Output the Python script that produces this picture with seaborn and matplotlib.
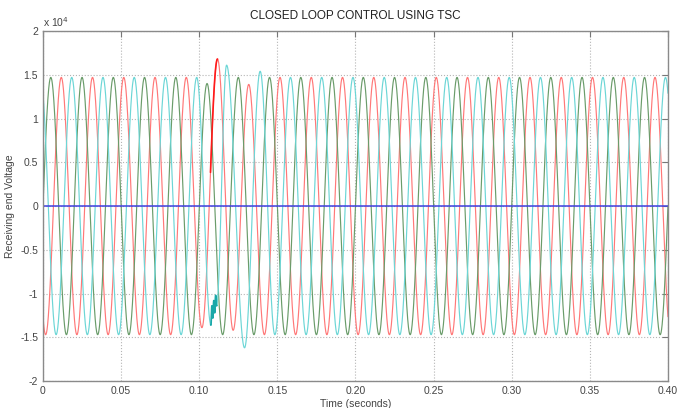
import numpy as np
import pandas as pd
import matplotlib
matplotlib.use('Agg')
import matplotlib.pyplot as plt
from matplotlib.ticker import FuncFormatter, MultipleLocator
import seaborn as sns

# three phase receiving end voltage, values in units of 1e4 V
freq_hz = 50.0
amp_nominal = 1.47
t_end = 0.40
phases = ['red', 'green', 'cyan']
first_peak_t = [0.0117, 0.0050, 0.0184]

red_event_t = [0.1017, 0.1117, 0.1217, 0.1317]
red_event_v = [-1.39, 1.68, -1.42, 1.39]
green_event_t = [0.1050]
green_event_v = [1.40]
cyan_event_t = [0.1075, 0.1081, 0.1087, 0.1093, 0.1099, 0.1105, 0.1111, 0.1175, 0.1290, 0.1390]
cyan_event_v = [-1.36, -1.14, -1.28, -1.08, -1.22, -1.02, -1.14, 1.61, -1.62, 1.54]

events = {'red': (red_event_t, red_event_v),
          'green': (green_event_t, green_event_v),
          'cyan': (cyan_event_t, cyan_event_v)}

line_colors = {'red': '#ff7878', 'green': '#6a9c6a', 'cyan': '#6cd6d6'}
zero_color = '#4040e0'


def extremes_for(t_first, ev_t, ev_v):
    half = 0.5 / freq_hz
    k = np.arange(-2, int(t_end / half) + 3)
    tk = t_first + k * half
    vk = amp_nominal * np.where(k % 2 == 0, 1.0, -1.0)
    lo, hi = min(ev_t) - 0.004, max(ev_t) + 0.004
    keep = (tk < lo) | (tk > hi)
    tk = np.concatenate([tk[keep], ev_t])
    vk = np.concatenate([vk[keep], ev_v])
    order = np.argsort(tk)
    return tk[order], vk[order]


def waveform(t, tk, vk):
    i = np.clip(np.searchsorted(tk, t) - 1, 0, len(tk) - 2)
    t0, t1, v0, v1 = tk[i], tk[i + 1], vk[i], vk[i + 1]
    u = (t - t0) / (t1 - t0)
    return (v0 + v1) / 2 + (v0 - v1) / 2 * np.cos(np.pi * u)


t = np.linspace(0, t_end, 8001)
frames = []
for name, tf in zip(phases, first_peak_t):
    tk, vk = extremes_for(tf, *events[name])
    frames.append(pd.DataFrame({'t': t, 'v': waveform(t, tk, vk) * 1e4, 'phase': name}))
df = pd.concat(frames, ignore_index=True)

sns.set_style('white')
plt.rcParams['font.family'] = ['Liberation Sans', 'DejaVu Sans']
plt.rcParams['font.size'] = 7.5

fig = plt.figure(figsize=(6.78, 4.08), dpi=100)
ax = fig.add_axes([0.0634, 0.066, 0.9218, 0.858])

sns.lineplot(data=df, x='t', y='v', hue='phase', palette=line_colors, linewidth=0.85,
             legend=False, estimator=None, sort=False, ax=ax)

# brighter stretches seen in the picture during switching
red_df = df[(df.phase == 'red') & (df.t >= 0.1072) & (df.t <= 0.1117)]
sns.lineplot(data=red_df, x='t', y='v', color='#ff1a1a', linewidth=1.2, estimator=None,
             sort=False, ax=ax)
cyan_df = df[(df.phase == 'cyan') & (df.t >= 0.1073) & (df.t <= 0.1113)]
sns.lineplot(data=cyan_df, x='t', y='v', color='#1aa8a8', linewidth=1.2, estimator=None,
             sort=False, ax=ax)

zero_df = pd.DataFrame({'t': [0, t_end], 'v': [0, 0]})
sns.lineplot(data=zero_df, x='t', y='v', color=zero_color, linewidth=1.1, ax=ax)

ax.set_xlim(0, t_end)
ax.set_ylim(-2e4, 2e4)
ax.xaxis.set_major_locator(MultipleLocator(0.05))
ax.yaxis.set_major_locator(MultipleLocator(0.5e4))
ax.xaxis.set_major_formatter(FuncFormatter(lambda x, p: '0' if abs(x) < 1e-9 else f'{x:.2f}'))
ax.yaxis.set_major_formatter(FuncFormatter(lambda y, p: f'{y / 1e4:g}'))
ax.grid(True, linestyle=':', color='#b5b5b5', linewidth=0.8)
ax.tick_params(direction='in', top=True, right=True, length=4, width=0.8,
               color='#777777', labelcolor='#444444', labelsize=7.5)
for s in ax.spines.values():
    s.set_color('#8a8a8a')
    s.set_linewidth(1.0)

ax.text(0, 1.006, r'x 10$^4$', transform=ax.transAxes, ha='left', va='bottom',
        fontsize=7.5, color='#444444')
ax.set_title('CLOSED LOOP CONTROL USING TSC', fontsize=8.5, color='#222222', pad=9)
ax.set_xlabel('Time (seconds)', color='#444444', fontsize=7.5, labelpad=2)
ax.set_ylabel('Receiving end Voltage', color='#444444', fontsize=7.5, labelpad=4)

fig.savefig('out.png', dpi=100, facecolor='white')
